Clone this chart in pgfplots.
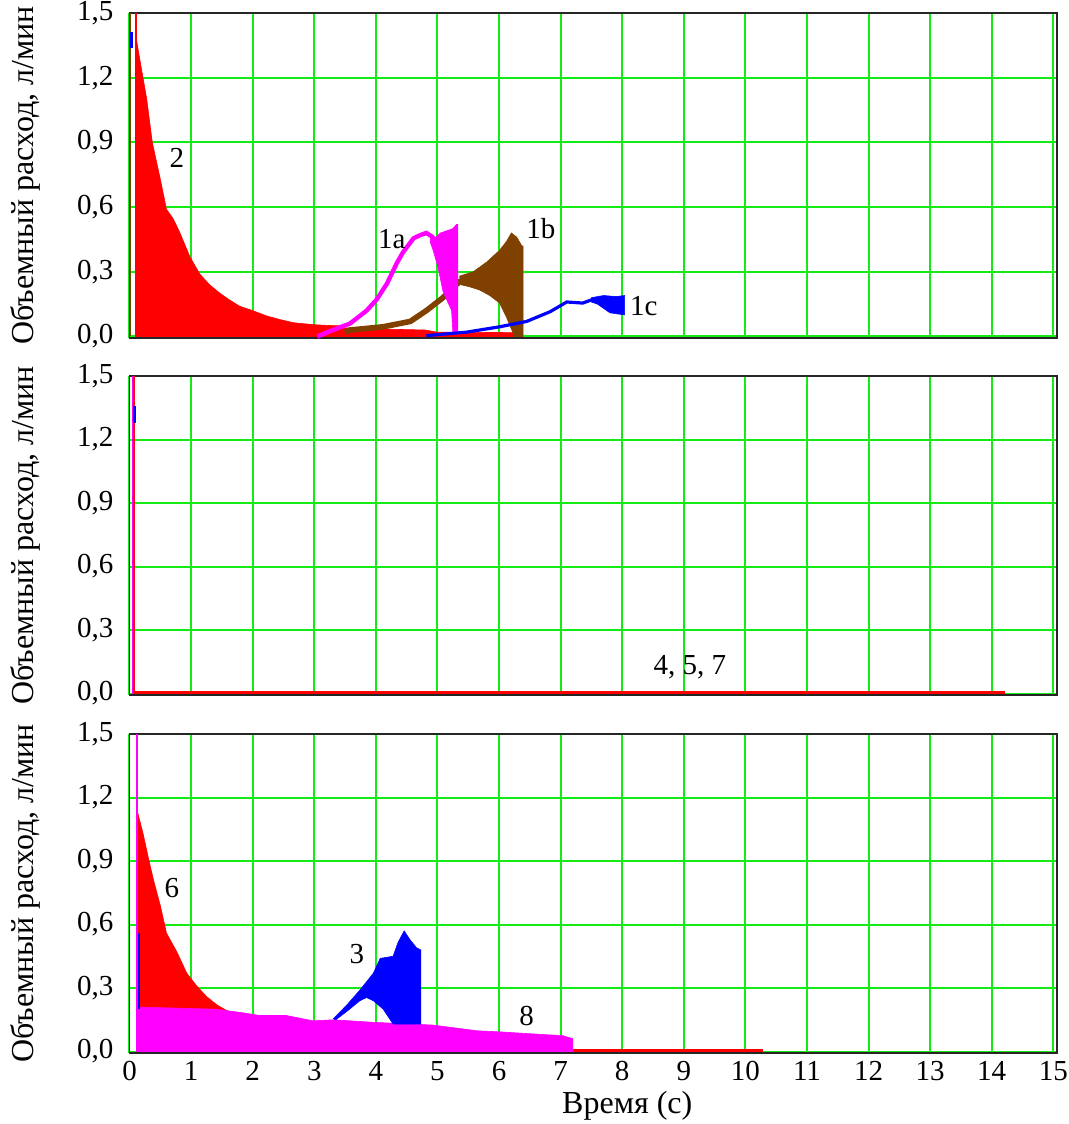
\documentclass[border=0pt]{standalone}
\usepackage{pgfplots}
\pgfplotsset{compat=1.18}
\usepackage{fontspec}
\setmainfont{Liberation Serif}
\definecolor{grd}{RGB}{20,235,20}
\definecolor{brn}{RGB}{128,64,0}
\definecolor{mag}{RGB}{255,0,255}
\definecolor{blu}{RGB}{0,0,255}
\definecolor{rd}{RGB}{255,0,0}
\newcommand{\lbl}{\fontsize{14.5}{16}\selectfont}
\pgfplotsset{panel/.style={
  scale only axis, width=463.75pt,
  xmin=0, xmax=15.06, ymin=-0.007, ymax=1.5,
  xtick={0,...,15},
  ytick={0,0.3,0.6,0.9,1.2,1.5},
  yticklabels={{0,0},{0,3},{0,6},{0,9},{1,2},{1,5}},
  grid=major, major grid style={grd, line width=1pt},
  major tick length=0pt,
  axis line style={black!85, line width=0.9pt},
  tick label style={font=\lbl},
  yticklabel style={xshift=-4.5pt},
  xticklabel style={yshift=-0.5pt},
  /pgf/number format/assume math mode=true,
  ylabel={Объемный расход, л/мин},
  ylabel style={font=\fontsize{16}{18}\selectfont, at={(axis description cs:-0.1121,0.5)}, anchor=center},
  anchor=south west,
}}
\begin{document}
\begin{tikzpicture}
\path[use as bounding box] (0,0) rectangle (534.5pt,-562pt);
% ---------------- top panel ----------------
\begin{axis}[panel, at={(64.75pt,-169pt)}, height=162.5pt, xticklabels={}]
% curve 2 (red)
\addplot[draw=rd, fill=rd, line width=0.3pt] coordinates {
(0.10,0) (0.10,1.40) (0.17,1.28) (0.28,1.10) (0.37,0.90) (0.50,0.73) (0.60,0.59)
(0.70,0.55) (0.77,0.51) (0.82,0.48) (0.98,0.37) (1.14,0.29) (1.30,0.24) (1.47,0.20)
(1.62,0.17) (1.79,0.14) (2.00,0.12) (2.23,0.095) (2.45,0.078) (2.66,0.064)
(2.98,0.055) (3.31,0.05) (3.47,0.05) (3.50,0.04) (4.0,0.035) (4.8,0.03) (5.0,0.02)
(6.25,0.018) (6.25,0)} -- cycle;
\addplot[rd, line width=1pt] coordinates {(0.10,0) (0.10,1.6)};
\addplot[brn, line width=1.2pt] coordinates {(0.01,0) (0.01,1.6)};
\addplot[blu, line width=1.2pt] coordinates {(0.03,1.34) (0.03,1.41)};
% curve 1b (brown)
\addplot[brn, line width=2.8pt] coordinates {
(3.50,0.02) (3.58,0.03) (4.12,0.045) (4.56,0.07) (4.82,0.12) (5.09,0.18) (5.36,0.255) (5.45,0.26)};
\addplot[draw=brn, fill=brn, line width=0.3pt] coordinates {
(5.36,0.28) (5.58,0.30) (5.80,0.345) (6.01,0.40) (6.12,0.44) (6.20,0.48) (6.29,0.46)
(6.37,0.42) (6.39,0.42) (6.39,0.0) (6.23,0.0) (6.23,0.015) (6.12,0.09) (6.01,0.155)
(5.85,0.19) (5.69,0.215) (5.53,0.23) (5.38,0.24)} -- cycle;
% curve 1a (magenta)
\addplot[mag, line width=2.2pt] coordinates {
(3.05,0.0) (3.30,0.03) (3.58,0.06) (3.85,0.12) (4.01,0.17) (4.18,0.245) (4.34,0.34)
(4.44,0.39) (4.61,0.455) (4.72,0.47) (4.82,0.48) (4.93,0.46)};
\addplot[draw=mag, fill=mag, line width=0.3pt] coordinates {
(4.90,0.47) (4.97,0.46) (5.05,0.48) (5.15,0.49) (5.25,0.50) (5.31,0.52) (5.33,0.52)
(5.33,0.02) (5.25,0.02) (5.23,0.12) (5.09,0.21) (5.01,0.32) (4.93,0.40) (4.88,0.44)} -- cycle;
% curve 1c (blue)
\addplot[blu, line width=1.6pt] coordinates {
(4.82,0.004) (5.47,0.02) (6.01,0.045) (6.45,0.07) (6.83,0.115) (7.10,0.16) (7.36,0.155) (7.55,0.175)};
\addplot[draw=blu, fill=blu, line width=0.3pt] coordinates {
(7.50,0.18) (7.70,0.19) (7.90,0.185) (8.04,0.19) (8.04,0.10) (7.80,0.11) (7.60,0.15) (7.50,0.16)} -- cycle;
\node[font=\lbl] at (axis cs:0.77,0.83) {2};
\node[font=\lbl] at (axis cs:4.26,0.45) {1a};
\node[font=\lbl] at (axis cs:6.68,0.50) {1b};
\node[font=\lbl] at (axis cs:8.35,0.14) {1c};
\end{axis}
% ---------------- middle panel ----------------
\begin{axis}[panel, at={(64.75pt,-347.5pt)}, height=159.5pt, xticklabels={}]
\addplot[rd, line width=1.5pt] coordinates {(0.05,0.004) (14.21,0.004)};
\addplot[mag, line width=1.5pt] coordinates {(0.06,0) (0.06,1.6)};
\addplot[rd, line width=1pt] coordinates {(0.08,0) (0.08,1.6)};
\addplot[blu, line width=1.2pt] coordinates {(0.08,1.28) (0.08,1.36)};
\node[font=\lbl] at (axis cs:9.1,0.125) {4, 5, 7};
\end{axis}
% ---------------- bottom panel ----------------
\begin{axis}[panel, at={(64.75pt,-526.5pt)}, height=159.5pt,
  xlabel={Время (с)}, xlabel style={font=\fontsize{16}{18}\selectfont, yshift=1.5pt, xshift=17pt}]
\addplot[rd, line width=1.5pt] coordinates {(0.12,0.005) (10.28,0.005)};
\addplot[draw=rd, fill=rd, line width=0.3pt] coordinates {
(0.12,0) (0.14,1.12) (0.22,1.03) (0.31,0.91) (0.39,0.81) (0.50,0.69) (0.60,0.56)
(0.77,0.47) (0.93,0.37) (1.09,0.31) (1.25,0.26) (1.42,0.22) (1.60,0.19) (1.60,0)} -- cycle;
\addplot[draw=mag, fill=mag, line width=0.3pt] coordinates {
(0.12,0) (0.12,0.21) (1.40,0.20) (1.79,0.185) (2.12,0.17) (2.55,0.17) (2.98,0.145)
(3.31,0.15) (3.96,0.138) (4.93,0.125) (5.64,0.098) (6.01,0.093) (6.56,0.083)
(7.04,0.075) (7.20,0.06) (7.20,0)} -- cycle;
\addplot[draw=blu, fill=blu, line width=0.3pt] coordinates {
(3.31,0.155) (3.53,0.22) (3.74,0.29) (3.96,0.37) (4.07,0.44) (4.28,0.45) (4.36,0.515)
(4.46,0.57) (4.55,0.53) (4.66,0.49) (4.73,0.48) (4.73,0.13) (4.28,0.13) (4.12,0.20)
(3.96,0.24) (3.85,0.255) (3.74,0.24) (3.53,0.19) (3.35,0.15)} -- cycle;
\addplot[blu, line width=1pt] coordinates {(0.16,0.2) (0.16,0.56)};
\addplot[mag, line width=1pt] coordinates {(0.12,0) (0.12,1.6)};
\node[font=\lbl] at (axis cs:0.69,0.77) {6};
\node[font=\lbl] at (axis cs:3.69,0.46) {3};
\node[font=\lbl] at (axis cs:6.45,0.17) {8};
\end{axis}
\end{tikzpicture}
\end{document}
